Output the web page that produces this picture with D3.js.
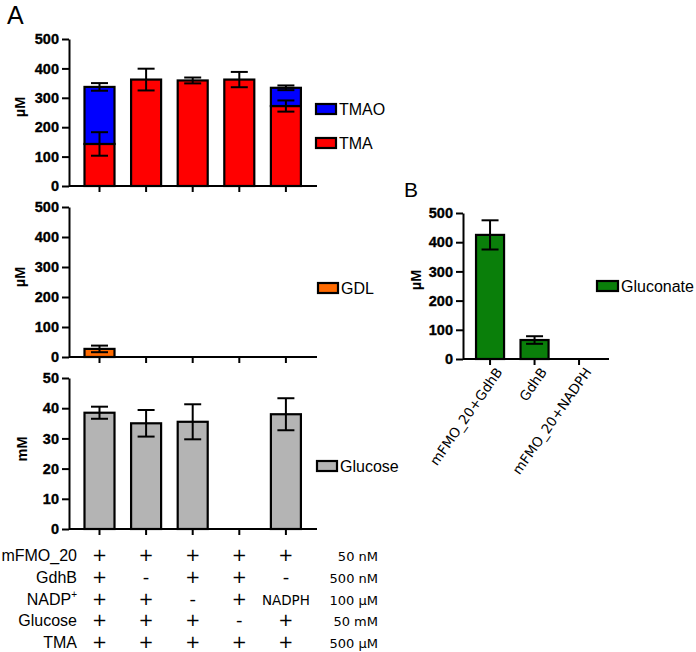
<!DOCTYPE html>
<html><head><meta charset="utf-8">
<script src="https://cdn.jsdelivr.net/npm/d3@7"></script>
<style>
html,body{margin:0;padding:0;background:#fff;}
svg{display:block;}
</style></head>
<body>
<svg id="chart" width="696" height="652"></svg>
<script>
// ---------- DATA ----------
const conditions = ["c1","c2","c3","c4","c5"];
const tmaMean  = [143, 362, 359, 362, 272];
const tmaErr   = [40, 37, 10, 26, 19];
const tmaoMean = [194, 0, 0, 0, 62];
const tmaoErr  = [13, 0, 0, 0, 8];
const gdlMean  = [27, 0, 0, 0, 0];
const gdlErr   = [11, 0, 0, 0, 0];
const glucoseMean = [38.5, 35, 35.5, 0, 38];
const glucoseErr  = [2, 4.4, 5.8, 0, 5.3];
const uMTicks = [0, 100, 200, 300, 400, 500];
const mMTicks = [0, 10, 20, 30, 40, 50];

const bCategories = ["mFMO_20+GdhB", "GdhB", "mFMO_20+NADPH"];
const gluconateMean = [425, 65, 0];
const gluconateErr  = [50, 13, 0];

const tableRows = ["mFMO_20", "GdhB", "NADP", "Glucose", "TMA"];
const tableConc = ["50 nM", "500 nM", "100 µM", "50 mM", "500 µM"];
const tableCells = [
  ["+","+","+","+","+"],
  ["+","-","+","+","-"],
  ["+","+","-","+","NADPH"],
  ["+","+","+","-","+"],
  ["+","+","+","+","+"]
];

// ---------- STYLE ----------
const ARIAL = "'Liberation Sans', Arial, Helvetica, sans-serif";
const VERD = "'DejaVu Sans', Verdana, sans-serif";
const cTMAO = "#0000ff", cTMA = "#ff0000", cGDL = "#ff6a00", cGlu = "#b4b4b4", cGlc = "#0a7f0a";

const svg = d3.select("#chart");

// ---------- PANEL A ----------
const ax0 = 69, ax1 = 317;
const x = d3.scaleBand().domain(conditions).range([76.2, 309.2]).paddingInner(0.356).paddingOuter(0.178);
const bw = x.bandwidth();

const yTop = d3.scaleLinear().domain([0, 500]).range([186, 39]);
const yMid = d3.scaleLinear().domain([0, 500]).range([357, 207]);
const yBot = d3.scaleLinear().domain([0, 50]).range([529, 378]);

function yAxis(g, y, ticks, axisX) {
  const a = g.append("g").attr("transform", `translate(${axisX},0)`)
    .call(d3.axisLeft(y).tickValues(ticks).tickSize(7).tickSizeOuter(0).tickPadding(3));
  a.select(".domain").attr("stroke-width", 2);
  a.selectAll(".tick line").attr("stroke-width", 2);
  a.selectAll("text").attr("font-family", ARIAL).attr("font-weight", "bold").attr("font-size", 14.5)
    .attr("fill", "#000").attr("stroke", "#000").attr("stroke-width", 0.35);
}
function xAxis(g, xs, y0, x0, x1) {
  g.append("line").attr("x1", x0).attr("x2", x1).attr("y1", y0).attr("y2", y0)
    .attr("stroke", "#000").attr("stroke-width", 2);
  const a = g.append("g").attr("transform", `translate(0,${y0})`)
    .call(d3.axisBottom(xs).tickSize(6).tickFormat(""));
  a.select(".domain").remove();
  a.selectAll(".tick line").attr("stroke-width", 2);
}
function yLabel(g, text, cx, cy) {
  g.append("text").attr("transform", `translate(${cx},${cy}) rotate(-90)`)
    .attr("text-anchor", "middle").attr("font-family", ARIAL).attr("font-weight", "bold")
    .attr("font-size", 14.5).text(text);
}
function bars(g, xs, y, lows, highs, color, w) {
  const data = xs.domain().map((c, i) => ({c, lo: lows[i], hi: highs[i]})).filter(d => d.hi > d.lo);
  g.selectAll(null).data(data).join("rect")
    .attr("x", d => xs(d.c) + (xs.bandwidth() - w) / 2)
    .attr("y", d => y(d.hi))
    .attr("width", w)
    .attr("height", d => y(d.lo) - y(d.hi))
    .attr("fill", color).attr("stroke", "#000").attr("stroke-width", 2.2);
}
function errs(g, xs, y, centers, errsArr) {
  const data = xs.domain().map((c, i) => ({c, m: centers[i], e: errsArr[i]})).filter(d => d.e > 0);
  const cx = d => xs(d.c) + xs.bandwidth() / 2;
  g.selectAll(null).data(data).join("line")
    .attr("x1", cx).attr("x2", cx)
    .attr("y1", d => y(d.m - d.e)).attr("y2", d => y(d.m + d.e))
    .attr("stroke", "#000").attr("stroke-width", 2);
  [1, -1].forEach(s => {
    g.selectAll(null).data(data).join("line")
      .attr("x1", d => cx(d) - 8.5).attr("x2", d => cx(d) + 8.5)
      .attr("y1", d => y(d.m + s * d.e)).attr("y2", d => y(d.m + s * d.e))
      .attr("stroke", "#000").attr("stroke-width", 2);
  });
}
function legendItem(g, lx, cy, color, text, w) {
  g.append("rect").attr("x", lx).attr("y", cy - 5).attr("width", w).attr("height", 10)
    .attr("fill", color).attr("stroke", "#000").attr("stroke-width", 2.2);
  g.append("text").attr("x", lx + w + 3).attr("y", cy + 5.8)
    .attr("font-family", ARIAL).attr("font-size", 16).text(text);
}

const zeros = conditions.map(() => 0);
// top panel: TMA + TMAO stacked
const gTop = svg.append("g");
const tmaTotal = tmaMean.map((v, i) => v + tmaoMean[i]);
bars(gTop, x, yTop, zeros, tmaMean, cTMA, bw);
bars(gTop, x, yTop, tmaMean, tmaTotal, cTMAO, bw);
errs(gTop, x, yTop, tmaMean, tmaErr);
errs(gTop, x, yTop, tmaTotal, tmaoErr);
yAxis(gTop, yTop, uMTicks, ax0);
xAxis(gTop, x, yTop(0), ax0, ax1);
yLabel(gTop, "µM", 25, 107);
legendItem(gTop, 316, 109, cTMAO, "TMAO", 20);
legendItem(gTop, 316, 143, cTMA, "TMA", 20);

// middle panel: GDL
const gMid = svg.append("g");
bars(gMid, x, yMid, zeros, gdlMean, cGDL, bw);
errs(gMid, x, yMid, gdlMean, gdlErr);
yAxis(gMid, yMid, uMTicks, ax0);
xAxis(gMid, x, yMid(0), ax0, ax1);
yLabel(gMid, "µM", 25, 277);
legendItem(gMid, 318, 288, cGDL, "GDL", 20);

// bottom panel: Glucose
const gBot = svg.append("g");
bars(gBot, x, yBot, zeros, glucoseMean, cGlu, bw);
errs(gBot, x, yBot, glucoseMean, glucoseErr);
yAxis(gBot, yBot, mMTicks, ax0);
xAxis(gBot, x, yBot(0), ax0, ax1);
yLabel(gBot, "mM", 27, 449);
legendItem(gBot, 317, 466, cGlu, "Glucose", 20);

// table
const rowY = d3.scalePoint().domain(tableRows).range([561, 648]);
const gTab = svg.append("g");
tableRows.forEach((r, i) => {
  const t = gTab.append("text").attr("x", 77).attr("y", rowY(r)).attr("text-anchor", "end")
    .attr("font-family", ARIAL).attr("font-size", 16);
  if (r === "NADP") {
    t.append("tspan").text("NADP");
    t.append("tspan").attr("font-size", 10).attr("dy", -7).text("+");
  } else t.text(r);
  gTab.append("text").attr("x", 378).attr("y", rowY(r)).attr("text-anchor", "end")
    .attr("font-family", VERD).attr("font-size", 13).text(tableConc[i]);
  tableCells[i].forEach((v, j) => {
    const cx = x(conditions[j]) + bw / 2;
    const t2 = gTab.append("text").attr("x", cx).attr("y", rowY(r)).attr("text-anchor", "middle");
    if (v === "NADPH") t2.attr("font-family", VERD).attr("font-size", 13.5).text(v);
    else t2.attr("font-family", VERD).attr("font-size", 18).text(v);
  });
});

// panel label A
svg.append("text").attr("x", 7).attr("y", 24).attr("font-family", ARIAL).attr("font-size", 25).text("A");

// ---------- PANEL B ----------
const bx0 = 463, bx1 = 609;
const xb = d3.scaleBand().domain(bCategories).range([467.8, 601.3]).paddingInner(0.37).paddingOuter(0.185);
const yB = d3.scaleLinear().domain([0, 500]).range([359, 213]);
const gB = svg.append("g");
bars(gB, xb, yB, bCategories.map(() => 0), gluconateMean, cGlc, xb.bandwidth());
errs(gB, xb, yB, gluconateMean, gluconateErr);
yAxis(gB, yB, uMTicks, bx0);
xAxis(gB, xb, yB(0), bx0, bx1);
yLabel(gB, "µM", 421, 280);
legendItem(gB, 597, 286, cGlc, "Gluconate", 21);
gB.selectAll(null).data(bCategories).join("text")
  .attr("transform", d => `translate(${xb(d) + xb.bandwidth() / 2 + 13},${372}) rotate(-55)`)
  .attr("text-anchor", "end").attr("font-family", VERD).attr("font-size", 13.5).text(d => d);
svg.append("text").attr("x", 404).attr("y", 197).attr("font-family", ARIAL).attr("font-size", 21).text("B");
</script>
</body></html>
